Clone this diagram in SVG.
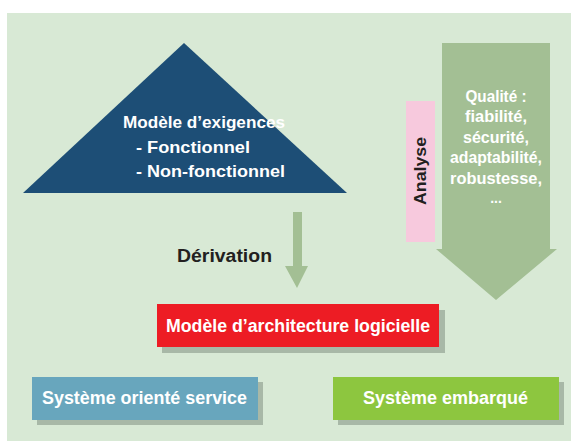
<svg xmlns="http://www.w3.org/2000/svg" width="571" height="441" viewBox="0 0 571 441">
<style>
.t{font-family:"Liberation Sans","DejaVu Sans",sans-serif;font-weight:bold;}
.w{fill:#ffffff;}
.d{fill:#231f20;}
.shadow{fill:#a8b8a7;}
.arrow{fill:#a3bf94;}
</style>
<rect x="0" y="0" width="571" height="441" fill="#ffffff"/>
<rect x="7" y="13" width="564" height="428" fill="#d8e9d5"/>
<g id="exigences">
<polygon points="184,43 23,193 347,193" fill="#1d4e76"/>
<text class="t w" font-size="17" x="123" y="128" textLength="162" lengthAdjust="spacingAndGlyphs">Modèle d’exigences</text>
<text class="t w" font-size="17" x="136" y="153" textLength="114" lengthAdjust="spacingAndGlyphs">- Fonctionnel</text>
<text class="t w" font-size="17" x="136" y="177" textLength="149" lengthAdjust="spacingAndGlyphs">- Non-fonctionnel</text>
</g>
<g id="analyse">
<rect x="406" y="101" width="29" height="141" fill="#f7c9dd"/>
<text class="t d" font-size="17" transform="translate(426,171) rotate(-90)" x="0" y="0" text-anchor="middle" textLength="68" lengthAdjust="spacingAndGlyphs">Analyse</text>
</g>
<g id="qualite">
<polygon class="arrow" points="442,43 550,43 550,249 557,249 496,300 436,249 442,249"/>
<g class="t w" font-size="16" text-anchor="middle">
<text x="496" y="102" textLength="61" lengthAdjust="spacingAndGlyphs">Qualité :</text>
<text x="496" y="122" textLength="62" lengthAdjust="spacingAndGlyphs">fiabilité,</text>
<text x="496" y="143" textLength="66" lengthAdjust="spacingAndGlyphs">sécurité,</text>
<text x="496" y="163" textLength="92" lengthAdjust="spacingAndGlyphs">adaptabilité,</text>
<text x="496" y="184" textLength="92" lengthAdjust="spacingAndGlyphs">robustesse,</text>
<text x="496" y="203" font-size="14">...</text>
</g>
</g>
<g id="connectors">
<polygon class="arrow" points="293,212 302,212 302,266 308,266 297,288 285,266 293,266"/>
</g>
<g id="derivation-label">
<text class="t d" font-size="18" x="177" y="262" textLength="95" lengthAdjust="spacingAndGlyphs">Dérivation</text>
</g>
<g id="architecture">
<rect class="shadow" x="162" y="310" width="283" height="43"/>
<rect x="157" y="304" width="282" height="43" fill="#ed1c24"/>
<text class="t w" font-size="18" x="166" y="332" textLength="264" lengthAdjust="spacingAndGlyphs">Modèle d’architecture logicielle</text>
</g>
<g id="soa">
<rect class="shadow" x="37" y="382" width="226" height="43"/>
<rect x="32" y="377" width="226" height="43" fill="#68a6bd"/>
<text class="t w" font-size="18" x="42" y="404" textLength="205" lengthAdjust="spacingAndGlyphs">Système orienté service</text>
</g>
<g id="embarque">
<rect class="shadow" x="338" y="382" width="226" height="43"/>
<rect x="333" y="377" width="226" height="43" fill="#8dc63f"/>
<text class="t w" font-size="18" x="363" y="404" textLength="165" lengthAdjust="spacingAndGlyphs">Système embarqué</text>
</g>
</svg>
